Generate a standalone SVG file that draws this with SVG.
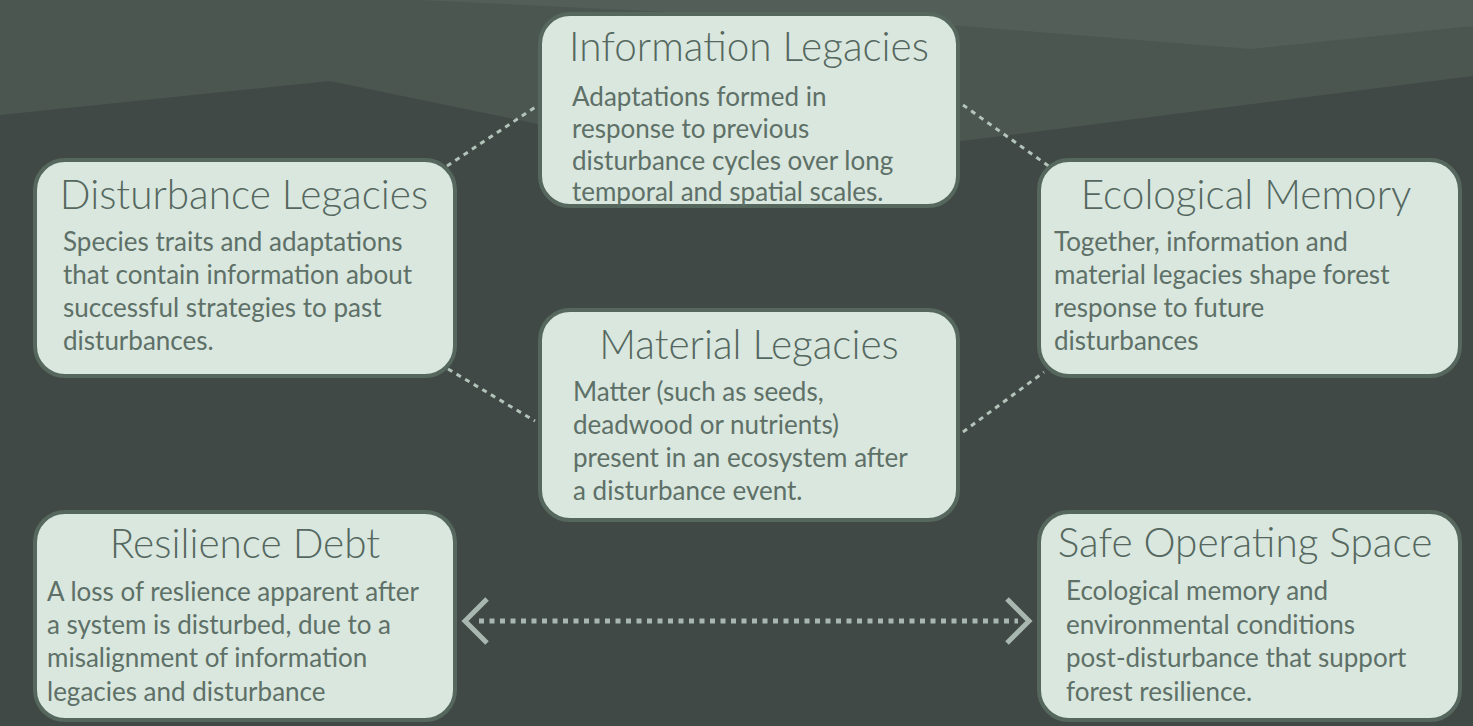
<svg xmlns="http://www.w3.org/2000/svg" width="1473" height="726" viewBox="0 0 1473 726">
<style>
.box{fill:#d9e7de;stroke:#56685e;stroke-width:4}
.title{font-family:Lato,"Open Sans",sans-serif;font-size:40.5px;font-weight:300;fill:#55675e;text-anchor:middle}
.body{font-family:Lato,"Open Sans",sans-serif;font-size:26px;fill:#5e7067}
.dot{stroke:#b3c4bb;stroke-width:3;stroke-dasharray:5 5;fill:none}
.chev{stroke:#a8b8b0;stroke-width:5;fill:none}
</style>
<rect x="0" y="0" width="1473" height="726" fill="#404946"/>
<polygon points="0,0 1473,0 1473,76 962,141 538,124 330,81 0,115" fill="#4c5651"/>
<polygon points="420,0 1473,0 1473,26 1251,49 962,26" fill="#535e59"/>
<g id="connectors">
<line class="dot" x1="447" y1="166" x2="537" y2="106"/>
<line class="dot" x1="963" y1="105" x2="1050" y2="167"/>
<line class="dot" x1="448" y1="369" x2="535" y2="421"/>
<line class="dot" x1="963" y1="432" x2="1044" y2="372"/>
<g id="double-arrow">
<line x1="479" y1="621" x2="1018" y2="621" stroke="#a8b8b0" stroke-width="5" stroke-dasharray="5 5.5"/>
<polyline class="chev" points="487,599 465,621 487,643"/>
<polyline class="chev" points="1007,599 1029,621 1007,643"/>
</g>
</g>
<g id="information-legacies">
<rect class="box" x="540" y="14" width="418" height="192" rx="30"/>
<text class="title" x="749" y="61">Information Legacies</text>
<text class="body" x="572" y="106">Adaptations formed in</text>
<text class="body" x="572" y="138">response to previous</text>
<text class="body" x="572" y="170">disturbance cycles over long</text>
<text class="body" x="572" y="201">temporal and spatial scales.</text>
</g>
<g id="disturbance-legacies">
<rect class="box" x="35" y="160" width="420" height="216" rx="30"/>
<text class="title" x="244" y="209">Disturbance Legacies</text>
<text class="body" x="63" y="251">Species traits and adaptations</text>
<text class="body" x="63" y="284">that contain information about</text>
<text class="body" x="63" y="317">successful strategies to past</text>
<text class="body" x="63" y="350">disturbances.</text>
</g>
<g id="ecological-memory">
<rect class="box" x="1039" y="160" width="421" height="216" rx="30"/>
<text class="title" x="1246" y="209">Ecological Memory</text>
<text class="body" x="1054" y="251">Together, information and</text>
<text class="body" x="1054" y="284">material legacies shape forest</text>
<text class="body" x="1054" y="317">response to future</text>
<text class="body" x="1054" y="350">disturbances</text>
</g>
<g id="material-legacies">
<rect class="box" x="540" y="310" width="418" height="210" rx="30"/>
<text class="title" x="749" y="359">Material Legacies</text>
<text class="body" x="573" y="401">Matter (such as seeds,</text>
<text class="body" x="573" y="434">deadwood or nutrients)</text>
<text class="body" x="573" y="467">present in an ecosystem after</text>
<text class="body" x="573" y="500">a disturbance event.</text>
</g>
<g id="resilience-debt">
<rect class="box" x="35" y="512" width="420" height="208" rx="30"/>
<text class="title" x="245" y="558">Resilience Debt</text>
<text class="body" x="47" y="601">A loss of reslience apparent after</text>
<text class="body" x="47" y="634">a system is disturbed, due to a</text>
<text class="body" x="47" y="667">misalignment of information</text>
<text class="body" x="47" y="701">legacies and disturbance</text>
</g>
<g id="safe-operating-space">
<rect class="box" x="1039" y="512" width="421" height="208" rx="30"/>
<text class="title" x="1245" y="557">Safe Operating Space</text>
<text class="body" x="1066" y="600">Ecological memory and</text>
<text class="body" x="1066" y="634">environmental conditions</text>
<text class="body" x="1066" y="667">post-disturbance that support</text>
<text class="body" x="1066" y="701">forest resilience.</text>
</g>
</svg>
